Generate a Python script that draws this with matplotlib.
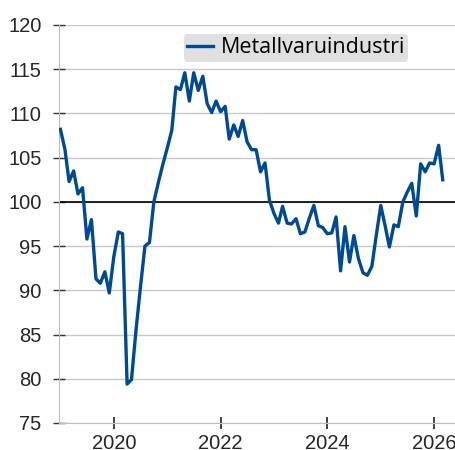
import numpy as np
import pandas as pd
import matplotlib
matplotlib.use('Agg')
import matplotlib.pyplot as plt
import matplotlib.dates as mdates

# monthly index, Jan 2019 - Mar 2026
months = pd.date_range('2019-01-01', '2026-03-01', freq='MS')
values = [
    108.2, 105.9, 102.3, 103.5, 100.9, 101.6, 95.8, 98.0, 91.3, 90.8, 92.1, 89.7,
    93.8, 96.6, 96.4, 79.4, 79.9, 85.5, 90.3, 95.0, 95.4, 100.0, 102.2, 104.2,
    106.1, 108.1, 113.0, 112.7, 114.6, 111.4, 114.6, 112.6, 114.2, 111.1, 110.1, 111.4,
    110.2, 110.8, 107.1, 108.7, 107.4, 109.2, 106.8, 105.9, 105.9, 103.4, 104.4, 100.2,
    98.7, 97.6, 99.5, 97.6, 97.5, 98.1, 96.4, 96.6, 98.2, 99.6, 97.3, 97.1,
    96.4, 96.5, 98.3, 92.2, 97.2, 93.2, 96.2, 93.6, 92.0, 91.7, 92.7, 96.2,
    99.6, 97.2, 94.9, 97.4, 97.2, 100.0, 101.1, 102.1, 98.4, 104.3, 103.4, 104.4,
    104.3, 106.4, 102.5,
]
series_name = 'Metallvaruindustri'
yticks = [75, 80, 85, 90, 95, 100, 105, 110, 115, 120]
xtick_years = [2020, 2022, 2024, 2026]

plt.rcParams['font.family'] = ['Liberation Sans', 'DejaVu Sans']

fig = plt.figure(figsize=(4.55, 4.5), dpi=100)
ax = fig.add_axes([59 / 455, 27 / 450, 396 / 455, 398 / 450])

ax.plot(months, values, color='#004a93', lw=2.4, label=series_name, zorder=3)
ax.axhline(100, color='black', lw=1.2, zorder=2)

ax.set_ylim(75, 120)
ax.set_yticks(yticks)
ax.yaxis.grid(True, color='#c8c8c8', lw=1)
ax.set_axisbelow(True)

ax.set_xlim(pd.Timestamp('2018-12-22'), pd.Timestamp('2026-05-24'))
ax.set_xticks([pd.Timestamp(f'{y}-01-01') for y in xtick_years])
ax.xaxis.set_major_formatter(mdates.DateFormatter('%Y'))

for s in ['top', 'right']:
    ax.spines[s].set_visible(False)
ax.spines['left'].set_color('#bdbdbd')
ax.spines['bottom'].set_color('#bdbdbd')

ax.tick_params(axis='y', direction='inout', length=9, width=1, color='#333333',
               labelsize=14.5, labelcolor='#262626', pad=8)
ax.tick_params(axis='x', direction='inout', length=8, width=1.3, color='#333333',
               labelsize=14.5, labelcolor='#262626', pad=4)

leg = ax.legend(loc='upper left', bbox_to_anchor=(0.316, 0.977), frameon=True,
                prop={'family': ['Open Sans', 'DejaVu Sans'], 'size': 15.5},
                handlelength=1.2, handletextpad=0.35,
                borderpad=0.15, borderaxespad=0, fancybox=True)
leg.get_frame().set_facecolor('#e0e0e0')
leg.get_frame().set_edgecolor('none')
leg.get_frame().set_alpha(1)

fig.savefig('out.png', dpi=100)
